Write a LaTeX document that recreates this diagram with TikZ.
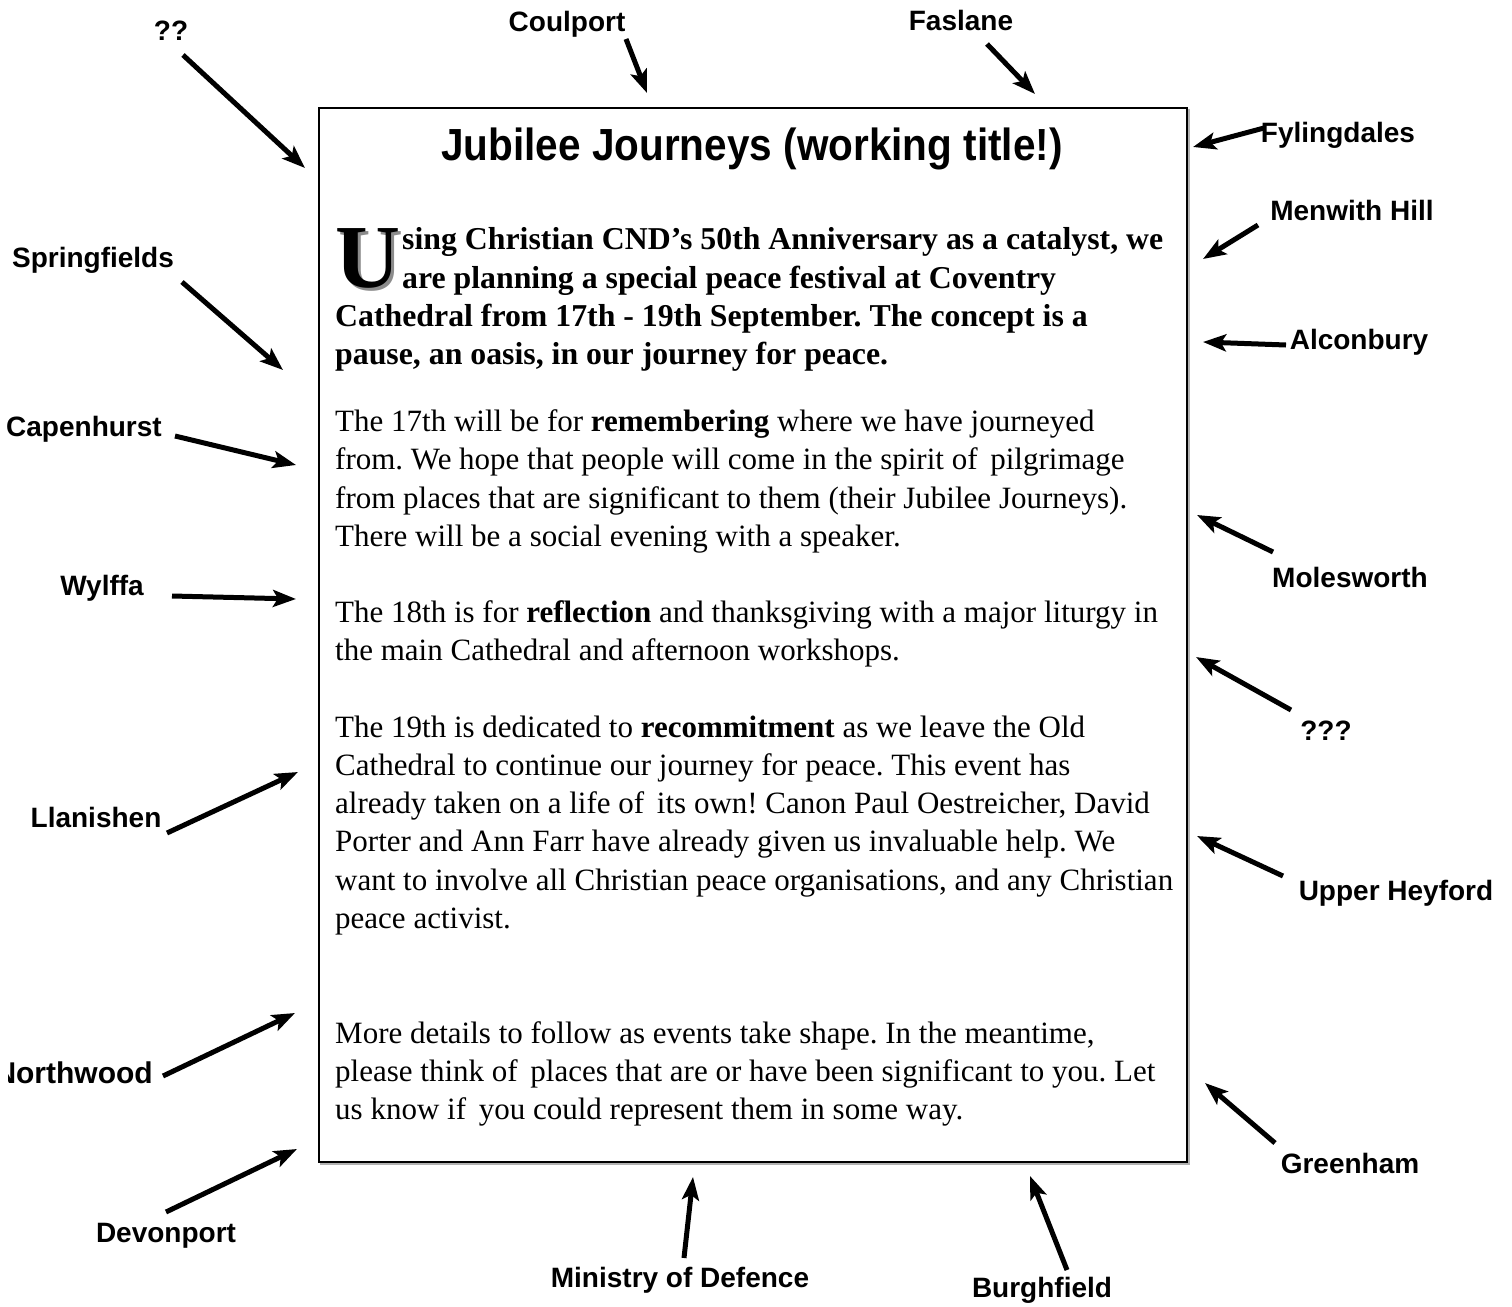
\documentclass[tikz,border=0pt]{standalone}
\usepackage{fontspec}
\setmainfont{Liberation Serif}
\newfontfamily\labelfont{Liberation Sans}
\newfontfamily\titlefont[FakeStretch=0.9]{Liberation Sans}
\usetikzlibrary{arrows.meta}
\frenchspacing
\newcommand\ofgap{\hspace{5pt}}
\begin{document}
\begin{tikzpicture}[x=1pt,y=-1pt,
  lbl/.style={font=\labelfont\bfseries\fontsize{28}{30}\selectfont, inner sep=0pt, anchor=base},
  pointer/.style={line width=5pt, -{Stealth[length=23pt,width=17pt,inset=5pt]}},
  body/.style={font=\frenchspacing\fontsize{31}{38}\selectfont, inner sep=0pt, anchor=base west},
  intro/.style={font=\frenchspacing\bfseries\fontsize{31.8}{38}\selectfont, inner sep=0pt, anchor=base west}]
\useasboundingbox (0,0) rectangle (1512,1306);
% box
\draw[line width=2pt, black!30] (321,110) rectangle (1189,1164);
\draw[line width=2.5pt, fill=white] (319,108) rectangle (1187,1162);
% title
\node[font=\titlefont\bfseries\fontsize{45}{48}\selectfont, inner sep=0pt, anchor=base] (title) at (752,160) {Jubilee Journeys (working title!)};
% drop cap
\node[font=\bfseries\fontsize{90}{90}\selectfont, inner sep=0pt, anchor=base west, text=black!45] (ushadow) at (338,290) {U};
\node[font=\bfseries\fontsize{90}{90}\selectfont, inner sep=0pt, anchor=base west] (ucap) at (335,287) {U};
% intro
\node[intro] (i1) at (402,249) {sing Christian CND’s 50th Anniversary as a catalyst, we};
\node[intro] (i2) at (402,288) {are planning a special peace festival at Coventry};
\node[intro] (i3) at (335,326) {Cathedral from 17th - 19th September. The concept is a};
\node[intro] (i4) at (335,364) {pause, an oasis, in our journey for peace.};
% para 2
\node[body] (p2a) at (335,431) {The 17th will be for \textbf{remembering} where we have journeyed};
\node[body] (p2b) at (335,469) {from. We hope that people will come in the spirit of\ofgap{} pilgrimage};
\node[body] (p2c) at (335,508) {from places that are significant to them (their Jubilee Journeys).};
\node[body] (p2d) at (335,546) {There will be a social evening with a speaker.};
% para 3
\node[body] (p3a) at (335,622) {The 18th is for \textbf{reflection} and thanksgiving with a major liturgy in};
\node[body] (p3b) at (335,660) {the main Cathedral and afternoon workshops.};
% para 4
\node[body] (p4a) at (335,737) {The 19th is dedicated to \textbf{recommitment} as we leave the Old};
\node[body] (p4b) at (335,775) {Cathedral to continue our journey for peace. This event has};
\node[body] (p4c) at (335,813) {already taken on a life of\ofgap{} its own! Canon Paul Oestreicher, David};
\node[body] (p4d) at (335,851) {Porter and Ann Farr have already given us invaluable help. We};
\node[body] (p4e) at (335,890) {want to involve all Christian peace organisations, and any Christian};
\node[body] (p4f) at (335,928) {peace activist.};
% para 5
\node[body] (p5a) at (335,1043) {More details to follow as events take shape. In the meantime,};
\node[body] (p5b) at (335,1081) {please think of\ofgap{} places that are or have been significant to you. Let};
\node[body] (p5c) at (335,1119) {us know if\ofgap{} you could represent them in some way.};
% labels
\node[lbl] (q2) at (171,41) {??};
\node[lbl] (coul) at (567,32) {Coulport};
\node[lbl] (fasl) at (961,31) {Faslane};
\node[lbl] (fyl) at (1338,142) {Fylingdales};
\node[lbl] (menw) at (1352,220) {Menwith Hill};
\node[lbl] (alc) at (1359,349) {Alconbury};
\node[lbl] (spr) at (93,267) {Springfields};
\node[lbl] (cap) at (84,436) {Capenhurst};
\node[lbl] (wyl) at (102,595) {Wylffa};
\node[lbl] (llan) at (96,827) {Llanishen};
\begin{scope}
\clip (8,1000) rectangle (300,1150);
\node[lbl, font=\labelfont\bfseries\fontsize{30}{32}\selectfont, anchor=base east] (north) at (153,1083) {Northwood};
\end{scope}
\node[lbl] (devo) at (166,1242) {Devonport};
\node[lbl] (mod) at (680,1287) {Ministry of Defence};
\node[lbl] (burg) at (1042,1297) {Burghfield};
\node[lbl] (green) at (1350,1173) {Greenham};
\node[lbl] (upper) at (1396,900) {Upper Heyford};
\node[lbl] (q3) at (1326,740) {???};
\node[lbl] (moles) at (1350,587) {Molesworth};
% arrow coordinates
\coordinate (q2s) at (183,55);    \coordinate (q2e) at (305,168);
\coordinate (couls) at (626,39);  \coordinate (coule) at (647,93);
\coordinate (fasls) at (987,44);  \coordinate (fasle) at (1035,94);
\coordinate (fyls) at (1264,128); \coordinate (fyle) at (1193,147);
\coordinate (menws) at (1258,225);\coordinate (menwe) at (1203,259);
\coordinate (alcs) at (1286,345); \coordinate (alce) at (1203,342);
\coordinate (sprs) at (182,282);  \coordinate (spre) at (283,370);
\coordinate (caps) at (175,436);  \coordinate (cape) at (296,465);
\coordinate (wyls) at (172,596);  \coordinate (wyle) at (296,599);
\coordinate (llans) at (167,833); \coordinate (llane) at (298,772);
\coordinate (norths) at (163,1076); \coordinate (northe) at (295,1013);
\coordinate (devos) at (166,1212); \coordinate (devoe) at (297,1149);
\coordinate (mods) at (684,1258); \coordinate (mode) at (693,1177);
\coordinate (burgs) at (1067,1270); \coordinate (burge) at (1030,1176);
\coordinate (greens) at (1275,1143); \coordinate (greene) at (1205,1083);
\coordinate (uppers) at (1283,876); \coordinate (uppere) at (1197,836);
\coordinate (q3s) at (1291,710);  \coordinate (q3e) at (1196,657);
\coordinate (moless) at (1273,552); \coordinate (molese) at (1197,515);
\foreach \a in {q2,coul,fasl,fyl,menw,alc,spr,cap,wyl,llan,north,devo,mod,burg,green,upper,q3,moles}
  \draw[pointer] (\a s) -- (\a e);
\end{tikzpicture}
\end{document}
